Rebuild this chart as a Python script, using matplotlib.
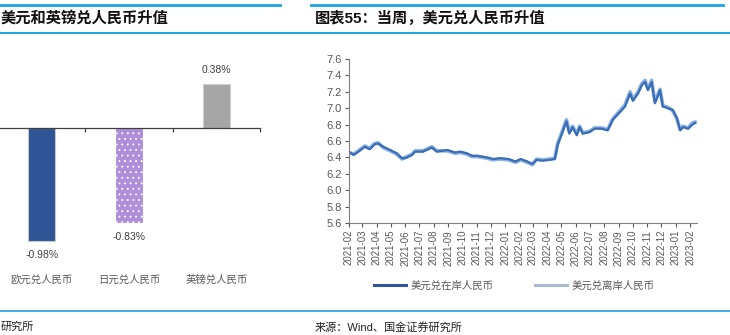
import matplotlib
matplotlib.use('Agg')
import matplotlib.pyplot as plt
import matplotlib.dates as mdates
from matplotlib.lines import Line2D
from matplotlib.transforms import blended_transform_factory
import numpy as np
import pandas as pd

plt.rcParams['font.family'] = ['Liberation Sans', 'Noto Sans CJK SC', 'DejaVu Sans']
plt.rcParams['hatch.linewidth'] = 0.6

# ---- weekly change of CNY crosses (%) ----
currencies = ['欧元兑人民币', '日元兑人民币', '英镑兑人民币']
weekly_change = [-0.98, -0.83, 0.38]

# ---- USD/CNY onshore and offshore ----
dates = pd.to_datetime([
    '2021-02-01', '2021-02-11', '2021-02-21', '2021-03-07', '2021-03-17', '2021-03-28',
    '2021-04-04', '2021-04-15', '2021-04-30', '2021-05-14', '2021-05-25', '2021-06-01',
    '2021-06-16', '2021-06-22', '2021-07-09', '2021-07-28', '2021-08-08', '2021-08-30',
    '2021-09-16', '2021-09-27', '2021-10-11', '2021-10-22', '2021-11-02', '2021-11-23',
    '2021-12-06', '2021-12-21', '2022-01-08', '2022-01-23', '2022-02-03', '2022-02-17',
    '2022-02-28', '2022-03-09', '2022-03-22', '2022-04-06', '2022-04-17', '2022-04-23',
    '2022-05-01', '2022-05-08', '2022-05-12', '2022-05-18', '2022-05-25', '2022-06-03',
    '2022-06-09', '2022-06-16', '2022-07-01', '2022-07-11', '2022-07-26', '2022-08-08',
    '2022-08-19', '2022-09-03', '2022-09-14', '2022-09-25', '2022-10-01', '2022-10-12',
    '2022-10-20', '2022-10-27', '2022-11-02', '2022-11-10', '2022-11-17', '2022-11-28',
    '2022-12-04', '2022-12-15', '2022-12-25', '2023-01-03', '2023-01-10', '2023-01-16',
    '2023-01-27', '2023-02-05', '2023-02-11',
])
usdcny_onshore = [
    6.47, 6.43, 6.47, 6.53, 6.50, 6.56,
    6.57, 6.53, 6.49, 6.45, 6.39, 6.39,
    6.43, 6.47, 6.47, 6.52, 6.47, 6.49,
    6.46, 6.47, 6.45, 6.42, 6.42, 6.40,
    6.38, 6.39, 6.38, 6.35, 6.38, 6.35,
    6.32, 6.37, 6.36, 6.37, 6.38, 6.55,
    6.67, 6.78, 6.84, 6.69, 6.77, 6.67,
    6.77, 6.69, 6.71, 6.75, 6.75, 6.73,
    6.86, 6.95, 7.02, 7.18, 7.09, 7.18,
    7.28, 7.32, 7.22, 7.32, 7.06, 7.22,
    7.02, 7.00, 6.98, 6.88, 6.73, 6.77,
    6.75, 6.80, 6.82,
]
usdcny_offshore = [
    6.46, 6.44, 6.48, 6.54, 6.51, 6.57,
    6.58, 6.52, 6.48, 6.44, 6.38, 6.40,
    6.44, 6.48, 6.48, 6.53, 6.48, 6.48,
    6.45, 6.46, 6.44, 6.41, 6.41, 6.39,
    6.37, 6.38, 6.37, 6.34, 6.37, 6.34,
    6.31, 6.38, 6.37, 6.38, 6.39, 6.57,
    6.69, 6.80, 6.86, 6.71, 6.78, 6.69,
    6.78, 6.70, 6.72, 6.76, 6.76, 6.74,
    6.87, 6.97, 7.04, 7.20, 7.11, 7.20,
    7.30, 7.34, 7.24, 7.34, 7.08, 7.23,
    7.03, 7.01, 6.97, 6.87, 6.74, 6.78,
    6.76, 6.82, 6.83,
]

W, H = 730, 335
fig = plt.figure(figsize=(W / 100, H / 100), dpi=100)


def fx(px):
    return px / W


def fy(py):
    return 1 - py / H


text_gray = '#595959'
rule_blue = '#1CA3E3'

# ---------------- left panel: bars ----------------
ax1 = fig.add_axes([fx(-2), fy(245), fx(262), 190 / H])
xpos = np.arange(len(currencies))
bars = ax1.bar(xpos, weekly_change, width=0.31,
               color=['#2F5597', '#B08FDA', '#A5A5A5'],
               edgecolor=['#C8C8C8', 'white', '#D0D0D0'], linewidth=0.8)
bars[1].set_hatch('...')
ax1.set_xlim(-0.5, 2.5)
ax1.set_ylim(-1.017, 0.635)
for side in ['left', 'right', 'top']:
    ax1.spines[side].set_visible(False)
ax1.spines['bottom'].set_position(('data', 0))
ax1.spines['bottom'].set_color('#404040')
ax1.spines['bottom'].set_linewidth(0.9)
ax1.set_yticks([])
ax1.set_xticks([0.5, 1.5, 2.5])
ax1.set_xticklabels([])
ax1.tick_params(axis='x', direction='out', length=3, color='#404040', width=0.9)

for xi, v in zip(xpos, weekly_change):
    off = 10 if v > 0 else -10
    ax1.annotate(f'{v:.2f}%', (xi, v), xytext=(0, off), textcoords='offset points',
                 ha='center', va='center', fontsize=7.5, color='#404040')

blend = blended_transform_factory(ax1.transData, fig.transFigure)
for xi, name in zip(xpos, currencies):
    ax1.text(xi, fy(280), name, transform=blend, ha='center', va='center',
             fontsize=7.5, color=text_gray)

# ---------------- right panel: USD/CNY ----------------
ax2 = fig.add_axes([fx(349), fy(223), (697 - 349) / W, (223 - 59) / H])
ax2.plot(dates, usdcny_offshore, color='#8DB3E2', lw=2.6, label='美元兑离岸人民币')
ax2.plot(dates, usdcny_onshore, color='#3A6DB5', lw=1.6, label='美元兑在岸人民币')
ax2.set_ylim(5.6, 7.6)
ax2.set_yticks(np.round(np.arange(5.6, 7.61, 0.2), 1))
ax2.yaxis.set_major_formatter(matplotlib.ticker.FormatStrFormatter('%.1f'))
ax2.set_xlim(pd.Timestamp('2021-02-01'), pd.Timestamp('2023-02-15'))
ax2.set_xticks(pd.date_range('2021-02-01', '2023-02-01', freq='MS'))
ax2.xaxis.set_major_formatter(mdates.DateFormatter('%Y-%m'))
for lbl in ax2.get_xticklabels():
    lbl.set_rotation(90)
ax2.tick_params(axis='x', labelsize=7, colors=text_gray, length=3, width=0.8, pad=2)
ax2.tick_params(axis='y', labelsize=8, colors=text_gray, length=3, width=0.8, pad=2)
for side in ['right', 'top']:
    ax2.spines[side].set_visible(False)
for side in ['left', 'bottom']:
    ax2.spines[side].set_color('#808080')
    ax2.spines[side].set_linewidth(0.8)

legend_handles = [Line2D([], [], color='#2F5597', lw=2.2),
                  Line2D([], [], color='#A9B8CC', lw=2.2)]
fig.legend(legend_handles, ['美元兑在岸人民币', '美元兑离岸人民币'], loc='center',
           bbox_to_anchor=(fx(514), fy(286)), ncol=2, frameon=False,
           fontsize=7.5, handlelength=3.1, columnspacing=4, handletextpad=0.4,
           labelcolor=text_gray)

# ---------------- titles, rules, sources ----------------
fig.add_artist(Line2D([fx(0), fx(280)], [fy(4.5), fy(4.5)], color=rule_blue, lw=2))
fig.add_artist(Line2D([fx(311), fx(723)], [fy(4.5), fy(4.5)], color=rule_blue, lw=2))
fig.add_artist(Line2D([0, 1], [fy(33), fy(33)], color=rule_blue, lw=1.4))
fig.add_artist(Line2D([0, 1], [fy(311), fy(311)], color=rule_blue, lw=1.2))

fig.text(fx(1), fy(18), '美元和英镑兑人民币升值', fontsize=11, fontweight='bold',
         ha='left', va='center', color='#111111')
fig.text(fx(315), fy(18), '图表55：当周，美元兑人民币升值', fontsize=11, fontweight='bold',
         ha='left', va='center', color='#111111')
fig.text(fx(1), fy(327), '研究所', fontsize=8, ha='left', va='center', color='#222222')
fig.text(fx(315), fy(327), '来源：Wind、国金证券研究所', fontsize=8, ha='left',
         va='center', color='#222222')

fig.savefig('out.png', dpi=100)
